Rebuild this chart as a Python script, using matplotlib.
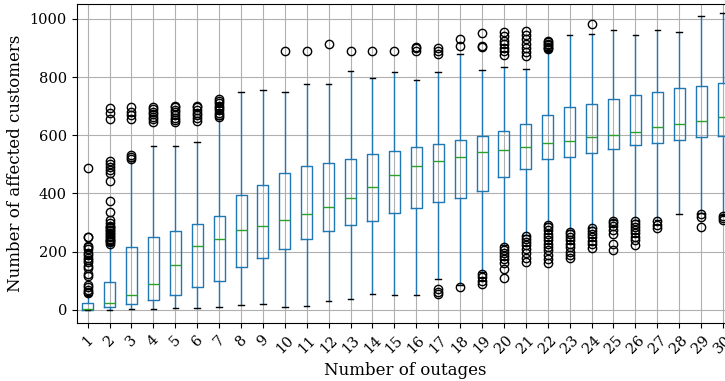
import matplotlib
matplotlib.use("Agg")
import matplotlib.pyplot as plt

plt.rcParams["font.family"] = ["DejaVu Serif"]

# Number of outages (categories)
outages = list(range(1, 31))

# Box statistics of affected customers per number of outages
whislo = [0, 0, 2, 4, 5, 8, 11, 17, 19, 11, 14, 31, 39, 55, 50, 50, 106, 85, 130, 223,
          258, 298, 275, 286, 309, 309, 309, 329, 332, 326]
q1 = [1, 9, 20, 33, 50, 78, 100, 147, 178, 210, 244, 271, 293, 305, 332, 349, 372, 385, 410, 457,
      485, 518, 525, 538, 554, 566, 572, 583, 595, 598]
med = [3, 23, 52, 88, 153, 219, 243, 274, 290, 308, 328, 353, 384, 424, 465, 495, 513, 527, 541, 550,
       559, 575, 581, 593, 601, 613, 627, 638, 648, 664]
q3 = [23, 95, 216, 252, 271, 294, 324, 395, 428, 471, 494, 504, 520, 534, 545, 559, 570, 584, 598, 614,
      638, 671, 696, 709, 723, 740, 749, 761, 769, 778]
whishi = [52, 224, 512, 563, 563, 577, 655, 747, 755, 749, 777, 777, 820, 798, 817, 789, 818, 880, 825, 836,
          829, 893, 945, 947, 963, 946, 962, 956, 1011, 1021]

# Outliers per number of outages
fliers = [
    [58, 62, 70, 80, 85, 118, 122, 145, 150, 165, 172, 180, 188, 195, 210, 215, 218, 250, 252, 487],
    [228, 232, 236, 240, 245, 250, 255, 260, 265, 270, 275, 280, 285, 290, 300, 310, 335, 373,
     443, 470, 480, 490, 500, 510, 655, 678, 693],
    [518, 525, 532, 655, 668, 680, 696],
    [647, 655, 662, 672, 680, 690, 698],
    [644, 652, 660, 670, 680, 688, 696, 701],
    [650, 660, 668, 678, 688, 696, 702],
    [662, 670, 678, 686, 694, 702, 710, 718, 724],
    [],
    [],
    [889],
    [889],
    [912],
    [889],
    [889],
    [889],
    [889, 899, 905],
    [54, 61, 71, 880, 891, 900],
    [80, 907, 930],
    [88, 100, 112, 125, 902, 908, 951],
    [109, 140, 160, 175, 185, 195, 205, 215, 876, 888, 900, 912, 925, 940, 956],
    [166, 180, 195, 210, 222, 235, 245, 255, 873, 885, 900, 915, 930, 945, 960],
    [160, 175, 190, 205, 215, 225, 240, 250, 262, 275, 285, 292, 895, 900, 905, 910, 915, 920, 925],
    [178, 190, 200, 215, 228, 240, 252, 262, 269],
    [212, 225, 238, 250, 262, 272, 281, 982],
    [206, 228, 262, 275, 288, 298, 304],
    [223, 240, 252, 263, 275, 286, 296, 304],
    [281, 292, 304],
    [],
    [284, 320, 328],
    [309, 315, 322],
]

stats = []
for i, lab in enumerate(outages):
    stats.append(dict(label=str(lab), whislo=whislo[i], q1=q1[i], med=med[i], q3=q3[i],
                      whishi=whishi[i], fliers=fliers[i]))

fig = plt.figure(figsize=(7.25, 3.81), dpi=100)
ax = fig.add_axes([0.1058, 0.1514, 1.0124 - 0.1058, 0.9887 - 0.1514])

ax.bxp(stats, positions=range(1, len(outages) + 1), widths=0.5, showfliers=True,
       boxprops=dict(color="#1f77b4"),
       whiskerprops=dict(color="#1f77b4"),
       capprops=dict(color="black"),
       medianprops=dict(color="#2ca02c"),
       flierprops=dict(marker="o", markerfacecolor="none", markeredgecolor="black"))

ax.grid(True)
ax.set_axisbelow(True)
ax.set_ylim(-46, 1050)
ax.set_xlim(0.5, len(outages) + 0.5)
ax.set_xticklabels([str(o) for o in outages], rotation=45)
ax.tick_params(labelsize=10.5)
ax.set_xlabel("Number of outages", fontsize=12)
ax.set_ylabel("Number of affected customers", fontsize=12)

fig.savefig("out.png", dpi=100)
